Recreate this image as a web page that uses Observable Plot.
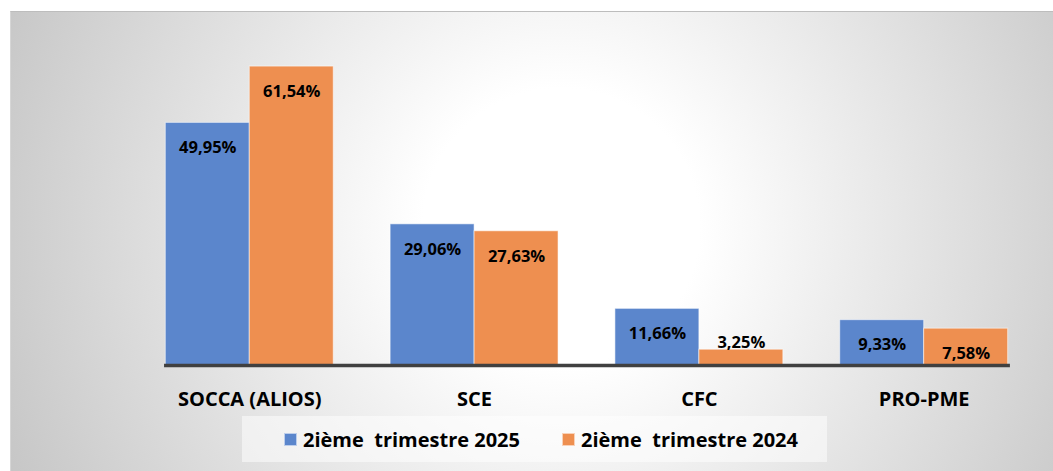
<!DOCTYPE html>
<html>
<head>
<meta charset="utf-8">
<script src="https://cdn.jsdelivr.net/npm/d3@7"></script>
<script src="https://cdn.jsdelivr.net/npm/@observablehq/plot@0.6"></script>
<style>
  html, body { margin: 0; padding: 0; background: #fff; }
  #wrap { position: relative; width: 1053px; height: 471px; overflow: hidden; font-family: "Open Sans", sans-serif; }
  #panel { position: absolute; left: 10px; top: 11px; width: 1043px; height: 460px;
    border-top: 1px solid #bdbdbd; border-left: 1px solid #d6d6d6; box-sizing: border-box;
    background: radial-gradient(circle 630px at 550px 215px, #ffffff 0%, #ffffff 22%, #c3c3c3 100%); }
  #chart { position: absolute; left: 0; top: 0; }
  #legend { position: absolute; left: 242px; top: 416px; width: 585px; height: 46px;
    background: rgba(255,255,255,0.5); }
  .item { position: absolute; top: 0; height: 46px; display: flex; align-items: center; }
  .sw { width: 13px; height: 13px; box-sizing: border-box; border: 1px solid rgba(255,255,255,0.6); margin-right: 6px; }
  .lab { font: bold 20px "Open Sans", sans-serif; color: #000; white-space: pre; }
</style>
</head>
<body>
<div id="wrap">
  <div id="panel"></div>
  <div id="chart"></div>
  <div id="legend"></div>
</div>
<script>
const categories = ["SOCCA (ALIOS)", "SCE", "CFC", "PRO-PME"];
const seriesNames = ["2ième  trimestre 2025", "2ième  trimestre 2024"];
const seriesColors = ["#5b86cc", "#ee8f50"];
const values2025 = [49.95, 29.06, 11.66, 9.33];
const values2024 = [61.54, 27.63, 3.25, 7.58];

const data = [];
categories.forEach((c, i) => {
  data.push({cat: c, series: seriesNames[0], value: values2025[i]});
  data.push({cat: c, series: seriesNames[1], value: values2024[i]});
});
const fmt = v => v.toFixed(2).replace(".", ",") + "%";

const chart = Plot.plot({
  width: 1053,
  height: 471,
  marginLeft: 137,
  marginRight: 28,
  marginTop: 25,
  marginBottom: 106,
  style: {background: "transparent", color: "#000", fontFamily: "'Open Sans', sans-serif"},
  fx: {domain: categories, paddingInner: 0.253, paddingOuter: 0.1015, align: 0.62, round: false, label: null, axis: null},
  x: {domain: seriesNames, padding: 0, axis: null, round: false},
  y: {domain: [0, 70], axis: null},
  color: {domain: seriesNames, range: seriesColors},
  marks: [
    Plot.barY(data, {fx: "cat", x: "series", y: "value", fill: "series", stroke: "#ffffff", strokeOpacity: 0.55, strokeWidth: 1}),
    Plot.text(data.filter(d => d.value >= 5), {fx: "cat", x: "series", y: "value", text: d => fmt(d.value), dy: 25, fontSize: 16.5, fontWeight: "bold", fill: "#000"}),
    Plot.text(data.filter(d => d.value < 5), {fx: "cat", x: "series", y: "value", text: d => fmt(d.value), dy: -7, fontSize: 16.5, fontWeight: "bold", fill: "#000"}),
    Plot.frame({anchor: "bottom", facet: "super", stroke: "#404040", strokeWidth: 3.5}),
    Plot.axisFx({anchor: "bottom", tickSize: 0, tickPadding: 26, fontSize: 20, fontWeight: "bold", label: null, fill: "#000"})
  ]
});
document.getElementById("chart").appendChild(chart);

const legend = document.getElementById("legend");
const lefts = [42, 320];
seriesNames.forEach((s, i) => {
  const it = document.createElement("div");
  it.className = "item";
  it.style.left = lefts[i] + "px";
  const sw = document.createElement("div");
  sw.className = "sw";
  sw.style.background = seriesColors[i];
  const lb = document.createElement("span");
  lb.className = "lab";
  lb.textContent = s;
  it.appendChild(sw); it.appendChild(lb);
  legend.appendChild(it);
});
</script>
</body>
</html>
